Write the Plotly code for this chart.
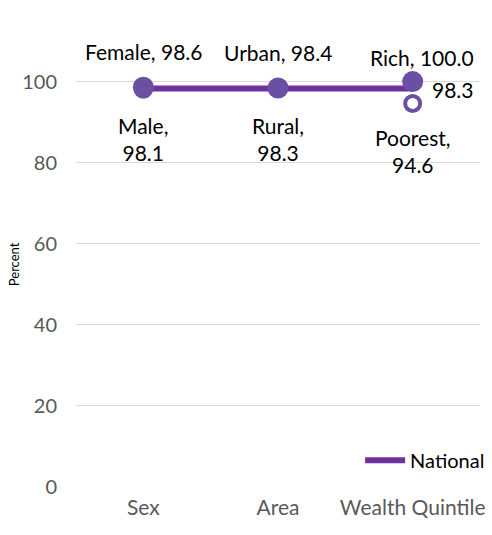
import plotly.graph_objects as go

# Disaggregation groups and their estimates (percent)
categories = ["Sex", "Area", "Wealth Quintile"]
high_names = ["Female", "Urban", "Rich"]
high_values = [98.6, 98.4, 100.0]
low_names = ["Male", "Rural", "Poorest"]
low_values = [98.1, 98.3, 94.6]
national_value = 98.3
y_ticks = [0, 20, 40, 60, 80, 100]

LINE_PURPLE = "#7030A0"
MARK_PURPLE = "#6A4FA3"
FONT = "Lato"

fig = go.Figure()

# National reference line
fig.add_trace(go.Scatter(
    x=categories, y=[national_value] * len(categories),
    mode="lines", name="National",
    line=dict(color=LINE_PURPLE, width=6),
    showlegend=True,
))

# Lower group: hollow markers
fig.add_trace(go.Scatter(
    x=categories, y=low_values, mode="markers", showlegend=False,
    marker=dict(size=15, color="white", line=dict(color=MARK_PURPLE, width=4)),
))

# Higher group: filled markers
fig.add_trace(go.Scatter(
    x=categories, y=high_values, mode="markers", showlegend=False,
    marker=dict(size=21, color=MARK_PURPLE, line=dict(width=0)),
))

label_font = dict(family=FONT, size=21, color="#000000")
high_shift = [36, 36, 24]
high_xshift = [0, 0, 9]
low_shift = [-50, -51, -48]

annotations = []
for cat, name, val, ys, xs in zip(categories, high_names, high_values, high_shift, high_xshift):
    annotations.append(dict(x=cat, y=val, text=f"{name}, {val:.1f}", showarrow=False,
                            yshift=ys, xshift=xs, font=label_font))
for cat, name, val, ys in zip(categories, low_names, low_values, low_shift):
    annotations.append(dict(x=cat, y=val, text=f"{name},<br>{val:.1f}", showarrow=False,
                            yshift=ys, font=label_font))
annotations.append(dict(x=categories[-1], y=national_value, text=f"{national_value:.1f}",
                        showarrow=False, xshift=40, yshift=-1, font=label_font))
annotations.append(dict(x=-0.153, xref="paper", xanchor="center", y=0.5, yref="paper",
                        yanchor="middle", text="Percent", textangle=-90, showarrow=False,
                        font=dict(family=FONT, size=13, color="#000000")))

fig.update_layout(
    width=492, height=535,
    margin=dict(l=76, r=12, t=41, b=48, autoexpand=False),
    paper_bgcolor="white", plot_bgcolor="white",
    font=dict(family=FONT),
    annotations=annotations,
    legend=dict(x=1.025, xanchor="right", y=0.06, yanchor="middle",
                bgcolor="rgba(0,0,0,0)", font=dict(family=FONT, size=20, color="#000000"),
                itemwidth=40),
)
fig.update_xaxes(
    type="category", range=[-0.5, 2.5], showgrid=False, zeroline=False,
    showline=False, ticks="", tickfont=dict(family=FONT, size=21, color="#595959"),
    ticklabelstandoff=6, automargin=False,
)
fig.update_yaxes(
    range=[0, 110], tickvals=y_ticks, showgrid=True, gridcolor="#D9D9D9", gridwidth=1,
    zeroline=False, showline=False, ticks="", automargin=False,
    tickfont=dict(family=FONT, size=20, color="#595959"), ticklabelstandoff=18,
)

fig.write_html("out.html")
